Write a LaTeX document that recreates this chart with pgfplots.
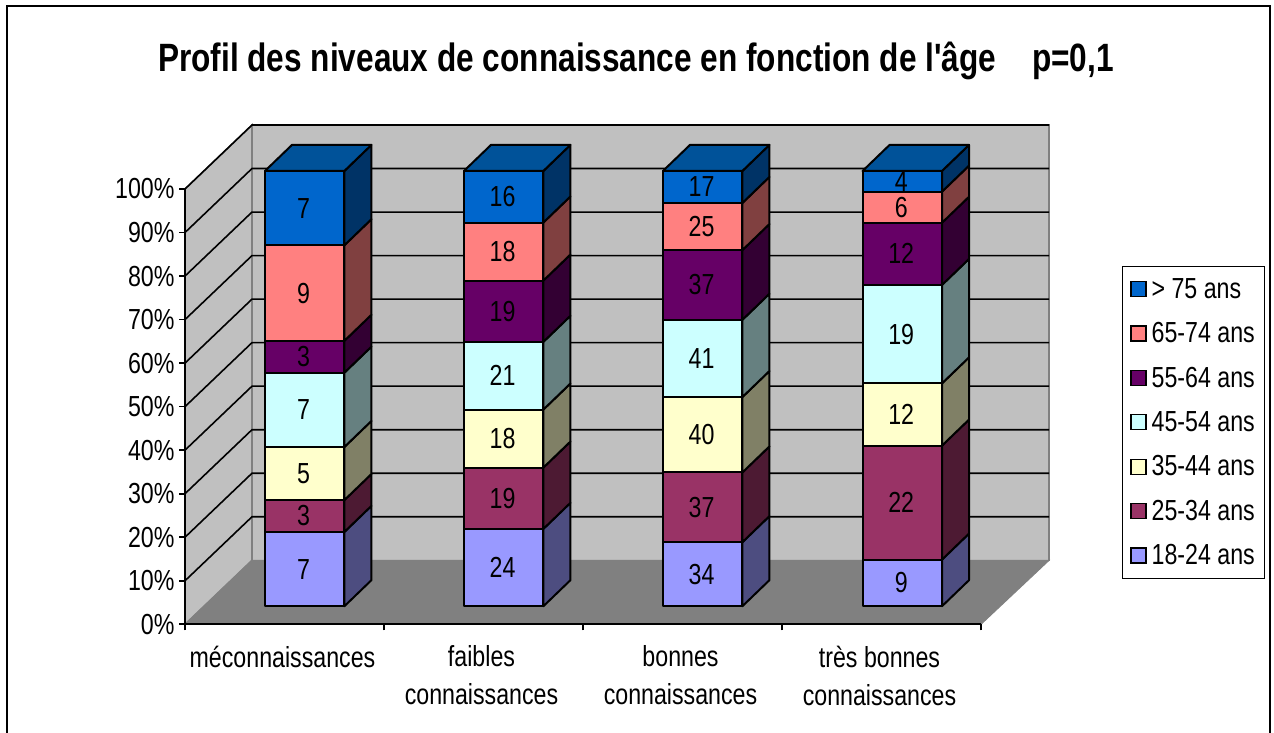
\documentclass[border=0pt]{standalone}
\usepackage{fontspec}
\setmainfont[FakeStretch=0.80,Ligatures=TeXOff]{Liberation Sans}
\usepackage{pgfplots}
\pgfplotsset{compat=1.18}
\definecolor{wall}{HTML}{C0C0C0}
\definecolor{flr}{HTML}{808080}
\definecolor{fa}{HTML}{9999FF}\definecolor{sa}{HTML}{4D4D80}
\definecolor{fb}{HTML}{993366}\definecolor{sb}{HTML}{4D1A33}
\definecolor{fc}{HTML}{FFFFCC}\definecolor{sc}{HTML}{808066}
\definecolor{fd}{HTML}{CCFFFF}\definecolor{sd}{HTML}{668080}
\definecolor{fe}{HTML}{660066}\definecolor{se}{HTML}{330033}
\definecolor{ff}{HTML}{FF8080}\definecolor{sf}{HTML}{804040}
\definecolor{fg}{HTML}{0066CC}\definecolor{sg}{HTML}{003366}
\definecolor{tg}{HTML}{005299}
\newcommand{\txt}{\fontsize{29}{38}\selectfont}
% #1 bar left edge, #2 cumulative count below, #3 count, #4 total, #5 front colour, #6 side colour
\newcommand{\seg}[6]{%
  \pgfmathsetmacro{\xa}{#1}%
  \pgfmathsetmacro{\xb}{#1+0.399}%
  \pgfmathsetmacro{\xc}{#1+0.5347}%
  \pgfmathsetmacro{\xm}{#1+0.194}%
  \pgfmathsetmacro{\ya}{4.15+#2/#4*100}%
  \pgfmathsetmacro{\yb}{4.15+(#2+#3)/#4*100}%
  \pgfmathsetmacro{\yc}{\ya+5.98}%
  \pgfmathsetmacro{\yd}{\yb+5.98}%
  \pgfmathsetmacro{\ym}{(\ya+\yb)/2}%
  \addplot[forget plot,barline,fill=#5] coordinates {(\xa,\ya) (\xb,\ya) (\xb,\yb) (\xa,\yb)} --cycle;
  \addplot[forget plot,barline,fill=#6] coordinates {(\xb,\ya) (\xc,\yc) (\xc,\yd) (\xb,\yb)} --cycle;
  \addplot[forget plot,draw=none,mark=none,nodes near coords,point meta=explicit symbolic,
    nodes near coords style={anchor=center,font=\txt,text=black,inner sep=0pt}] coordinates {(\xm,\ym) [#3]};
}
% top face of a bar
\newcommand{\topface}[1]{%
  \pgfmathsetmacro{\xa}{#1}%
  \pgfmathsetmacro{\xb}{#1+0.399}%
  \pgfmathsetmacro{\xc}{#1+0.5347}%
  \pgfmathsetmacro{\xd}{#1+0.1357}%
  \addplot[forget plot,barline,fill=tg] coordinates {(\xa,104.15) (\xb,104.15) (\xc,110.13) (\xd,110.13)} --cycle;
}
\begin{document}
\begin{tikzpicture}[x=1pt,y=1pt]
\path[use as bounding box] (0,0) rectangle (1274,733);
\fill[white] (0,0) rectangle (1274,733);
\draw[black,line width=2pt] (6.5,-3) -- (6.5,727) -- (1270,727) -- (1270,-3);
\begin{axis}[
  at={(185pt,108.7pt)},anchor=south west,
  width=796pt,height=435.3pt,scale only axis,
  xmin=0,xmax=4,ymin=0,ymax=100,clip=false,axis on top,
  axis x line*=bottom,axis y line*=left,
  axis line style={black,line width=1.8pt},
  tick align=outside,major tick length=6pt,
  tick style={black,line width=1.6pt},
  xtick={0,1,2,3,4},xticklabels={},
  extra x ticks={0.49,1.49,2.49,3.49},
  extra x tick labels={méconnaissances,faibles\\connaissances,bonnes\\connaissances,très bonnes\\connaissances},
  extra x tick style={major tick length=0pt,xticklabel style={align=center,anchor=north,font=\txt,yshift=-18pt}},
  ytick={0,10,...,100},
  yticklabel={\pgfmathprintnumber{\tick}\%},
  /pgf/number format/assume math mode=true,
  yticklabel style={font=\txt,anchor=east,xshift=-1pt},
  title={\bfseries Profil des niveaux de connaissance en fonction de l'âge\hspace{36pt}p=0,1},
  title style={font=\fontsize{39.5}{42}\selectfont,at={(0.5666,1.298)},anchor=center,yshift=-8pt},
  barline/.style={draw=black,line width=2pt,line join=round},
  legend style={at={(1.177,0.8276)},anchor=north west,draw=black,line width=1pt,font=\txt,
    row sep=18.7pt,inner xsep=8pt,inner ysep=10pt,yshift=-2pt,
    /tikz/every even column/.append style={column sep=0pt}},
  legend cell align=left,
  legend image code/.code={\draw[#1,line width=1.2pt] (0pt,-7.5pt) rectangle (15pt,7.5pt);},
]
% walls and floor
\addplot[forget plot,draw=flr,line width=1.5pt,fill=wall] coordinates {(0,0) (0,100) (0.3367,114.7) (0.3367,14.7)} --cycle;
\addplot[forget plot,draw=flr,line width=1.5pt,fill=wall] coordinates {(0.3367,14.7) (4.342,14.7) (4.342,114.7) (0.3367,114.7)} --cycle;
\addplot[forget plot,draw=flr,line width=1pt,fill=flr] coordinates {(0,0) (4,0) (4.342,14.7) (0.3367,14.7)} --cycle;
% grid lines
\pgfplotsinvokeforeach{10,20,...,100}{
  \pgfmathsetmacro{\gy}{#1+14.7}
  \addplot[forget plot,black,line width=1.6pt] coordinates {(0,#1) (0.3367,\gy) (4.342,\gy)};
}
% bars
\seg{0.402}{0}{7}{41}{fa}{sa}
\seg{0.402}{7}{3}{41}{fb}{sb}
\seg{0.402}{10}{5}{41}{fc}{sc}
\seg{0.402}{15}{7}{41}{fd}{sd}
\seg{0.402}{22}{3}{41}{fe}{se}
\seg{0.402}{25}{9}{41}{ff}{sf}
\seg{0.402}{34}{7}{41}{fg}{sg}
\topface{0.402}
\seg{1.402}{0}{24}{135}{fa}{sa}
\seg{1.402}{24}{19}{135}{fb}{sb}
\seg{1.402}{43}{18}{135}{fc}{sc}
\seg{1.402}{61}{21}{135}{fd}{sd}
\seg{1.402}{82}{19}{135}{fe}{se}
\seg{1.402}{101}{18}{135}{ff}{sf}
\seg{1.402}{119}{16}{135}{fg}{sg}
\topface{1.402}
\seg{2.402}{0}{34}{231}{fa}{sa}
\seg{2.402}{34}{37}{231}{fb}{sb}
\seg{2.402}{71}{40}{231}{fc}{sc}
\seg{2.402}{111}{41}{231}{fd}{sd}
\seg{2.402}{152}{37}{231}{fe}{se}
\seg{2.402}{189}{25}{231}{ff}{sf}
\seg{2.402}{214}{17}{231}{fg}{sg}
\topface{2.402}
\seg{3.405}{0}{9}{84}{fa}{sa}
\seg{3.405}{9}{22}{84}{fb}{sb}
\seg{3.405}{31}{12}{84}{fc}{sc}
\seg{3.405}{43}{19}{84}{fd}{sd}
\seg{3.405}{62}{12}{84}{fe}{se}
\seg{3.405}{74}{6}{84}{ff}{sf}
\seg{3.405}{80}{4}{84}{fg}{sg}
\topface{3.405}
% legend
\addlegendimage{fill=fg,draw=black}\addlegendentry{\hspace{3pt}> 75 ans}
\addlegendimage{fill=ff,draw=black}\addlegendentry{\hspace{3pt}65-74 ans}
\addlegendimage{fill=fe,draw=black}\addlegendentry{\hspace{3pt}55-64 ans}
\addlegendimage{fill=fd,draw=black}\addlegendentry{\hspace{3pt}45-54 ans}
\addlegendimage{fill=fc,draw=black}\addlegendentry{\hspace{3pt}35-44 ans}
\addlegendimage{fill=fb,draw=black}\addlegendentry{\hspace{3pt}25-34 ans}
\addlegendimage{fill=fa,draw=black}\addlegendentry{\hspace{3pt}18-24 ans}
\end{axis}
\end{tikzpicture}
\end{document}
